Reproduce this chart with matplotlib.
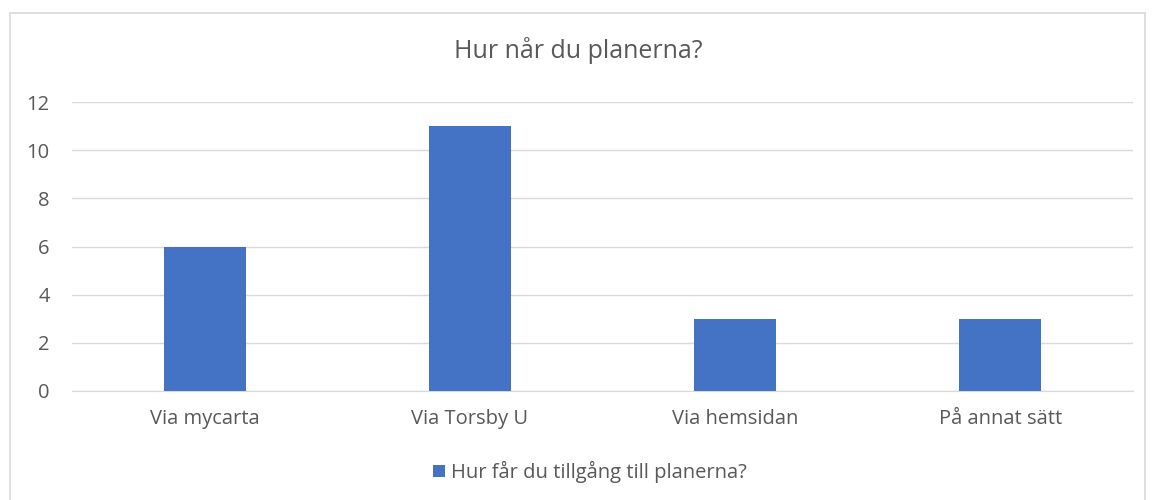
import matplotlib.pyplot as plt
from matplotlib.patches import Rectangle

categories = ["Via mycarta", "Via Torsby U", "Via hemsidan", "På annat sätt"]
values = [6, 11, 3, 3]
series_name = "Hur får du tillgång till planerna?"
title = "Hur når du planerna?"

plt.rcParams['font.family'] = ['Open Sans', 'DejaVu Sans']
txt = '#595959'
blue = '#4472c4'

fig = plt.figure(figsize=(11.57, 5), dpi=100)
ax = fig.add_axes([72/1157, 1-391/500, (1133-72)/1157, (391-102)/500])

x = range(len(categories))
ax.bar(x, values, width=0.31, color=blue, label=series_name, zorder=3)
ax.set_xlim(-0.5, len(categories) - 0.5)
ax.set_ylim(0, 12)
ax.set_yticks(range(0, 13, 2))
ax.set_xticks(list(x))
ax.set_xticklabels(categories)
ax.grid(axis='y', color='#d9d9d9', linewidth=1, zorder=0)
for s in ['top', 'right', 'left']:
    ax.spines[s].set_visible(False)
ax.spines['bottom'].set_color('#d9d9d9')
ax.tick_params(axis='both', length=0, labelsize=14.5, labelcolor=txt)
ax.tick_params(axis='x', pad=13)
ax.tick_params(axis='y', pad=16)

fig.text(0.5, 1-50/500, title, ha='center', va='center', fontsize=18, color=txt)

leg = fig.legend(*ax.get_legend_handles_labels(), loc='center', bbox_to_anchor=(0.51, 1-472/500),
                 frameon=False, fontsize=14.5, handlelength=0.6, handleheight=0.6, handletextpad=0.3)
for t in leg.get_texts():
    t.set_color(txt)

fig.patches.append(Rectangle((10/1157, -0.01), (1145-10)/1157, 1-13/500 + 0.01,
                             transform=fig.transFigure, fill=False, edgecolor='#d9d9d9', linewidth=1.2))

plt.savefig('out.png', dpi=100)
